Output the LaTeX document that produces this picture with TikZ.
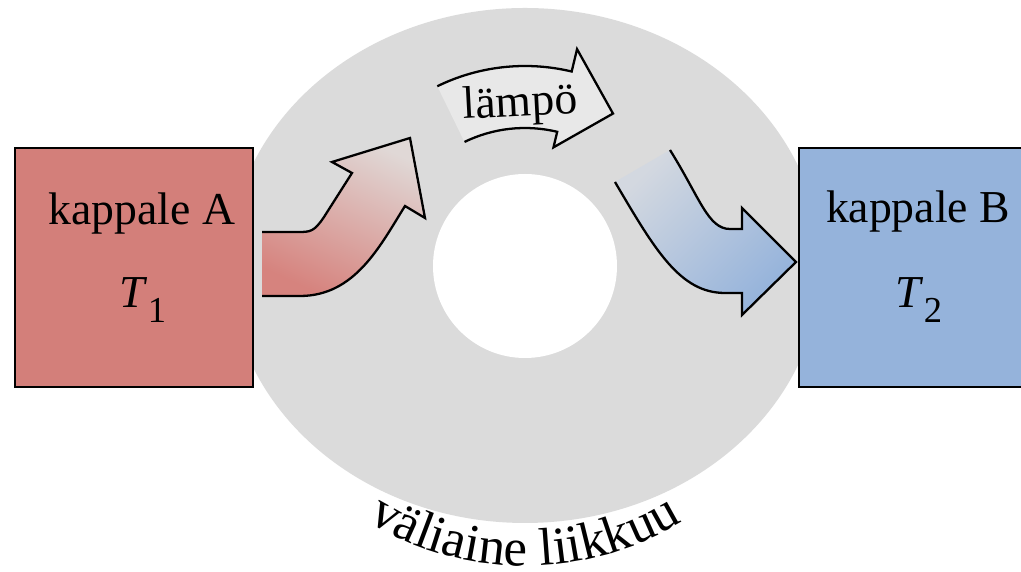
\documentclass[tikz,border=0pt]{standalone}
\usepackage{fontspec}
\setmainfont{Liberation Serif}[Scale=1.3]
\usetikzlibrary{decorations.text}

\definecolor{medium}{HTML}{DBDBDB}
\definecolor{hotred}{HTML}{D37F7A}
\definecolor{coldblue}{HTML}{95B3DB}
\definecolor{redpale}{HTML}{E0D8D6}
\definecolor{redwarm}{HTML}{D6837E}
\definecolor{bluepale}{HTML}{D3D8E0}
\definecolor{heatfill}{HTML}{E8E8E8}

\newcommand{\temp}[1]{\textit{T}\raisebox{-4pt}{\footnotesize #1}}

\tikzset{
    body/.style={draw=black, line width=0.75pt, minimum width=2.38cm, minimum height=2.39cm, inner sep=0pt},
    flow/.style={draw=black, line width=0.65pt, line join=miter}
}

\begin{document}
\begin{tikzpicture}
    \clip (0,0) rectangle (10.21,5.72);

    % Väliaine: harmaa rengas
    \fill[medium] (5.25,3.065) ellipse [x radius=2.96, y radius=2.575];
    \fill[white] (5.25,3.06) circle [radius=0.92];

    % Kappaleet
    \node[body, fill=hotred] (boxA) at (1.34,3.045) {};
    \node[body, fill=coldblue] (boxB) at (9.18,3.045) {};
    \node[anchor=base] (nameA) at (1.42,3.47) {kappale A};
    \node[anchor=base] (tempA) at (1.43,2.64) {\temp{1}};
    \node[anchor=base] (nameB) at (9.18,3.49) {kappale B};
    \node[anchor=base] (tempB) at (9.19,2.64) {\temp{2}};

    % Lämpö lähtee A:sta
    \path[flow, bottom color=redwarm, top color=redpale, shading angle=-25]
        (2.62,2.76) -- (3.00,2.76) .. controls (3.55,2.76) and (3.80,3.26) .. (4.05,3.66)
        -- (4.25,3.54) -- (4.10,4.34) -- (3.32,4.10) -- (3.52,3.99) -- (3.24,3.55)
        .. controls (3.14,3.40) and (3.10,3.40) .. (2.98,3.40) -- (2.62,3.40);

    % Lämpö tulee B:hen
    \path[flow, top color=bluepale, bottom color=coldblue, shading angle=45]
        (6.70,4.22) .. controls (7.00,3.74) and (7.08,3.43) .. (7.30,3.43) -- (7.42,3.43)
        -- (7.42,3.64) -- (7.96,3.10) -- (7.42,2.57) -- (7.42,2.79) -- (7.25,2.79)
        .. controls (6.80,2.79) and (6.55,3.22) .. (6.15,3.90);

    \begin{scope}[shift={(5.25,3.06)}]
        % Kaareva nuoli renkaan yläosassa
        \path[flow, fill=heatfill]
            (116:2.0) arc[start angle=116, end angle=76.5, radius=2.0]
            -- (76.5:2.23) -- (60:1.76) -- (76.5:1.22) -- (76.5:1.38)
            arc[start angle=76.5, end angle=116, radius=1.38];
        \node[anchor=base, rotate=3] (heat) at (-0.04,1.50) {lämpö};

        % Teksti renkaan alareunassa
        \path[decorate, decoration={text along path, text align=center,
                text={|\fontsize{11.6}{14}\selectfont|väliaine liikkuu}}]
            (230:3.0) arc[start angle=230, end angle=310, radius=3.0];
    \end{scope}
\end{tikzpicture}
\end{document}
